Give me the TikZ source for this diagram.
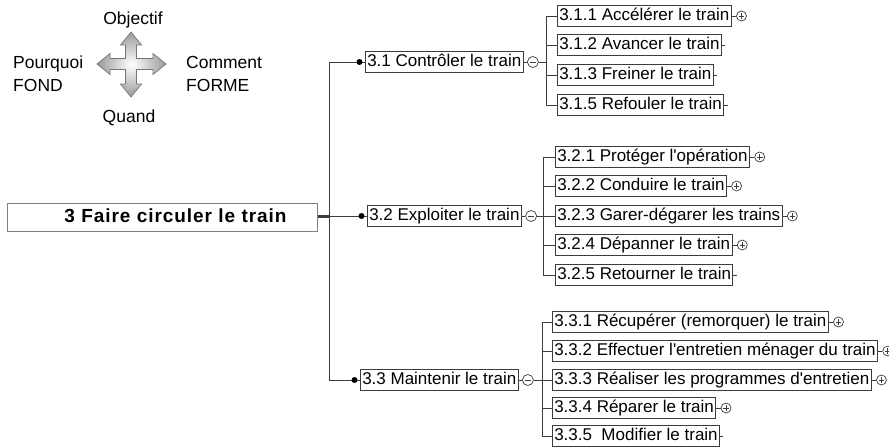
\documentclass[tikz,border=0pt]{standalone}
\usepackage{fontspec}
\setmainfont{Liberation Sans}
\usetikzlibrary{positioning}
\definecolor{ln}{HTML}{3C3C3C}
\begin{document}
\begin{tikzpicture}[x=1pt,y=-1pt,
  box/.style={draw=ln, fill=white, line width=0.9pt, inner xsep=1.8pt, inner ysep=0pt,
    minimum height=21pt, anchor=west, font=\fontsize{17}{20}\selectfont,
    text height=12.5pt, text depth=3.5pt},
  rootbox/.style={draw=gray, fill=white, line width=0.9pt, minimum height=28pt, anchor=east,
    inner xsep=31pt, inner ysep=0pt, text width=248pt, align=right,
    font=\fontsize{19}{22}\selectfont\bfseries\addfontfeature{LetterSpace=5},
    text height=14pt, text depth=4pt},
  lab/.style={font=\fontsize{17.5}{23}\selectfont, inner sep=0pt},
  conn/.style={draw=ln, line width=0.8pt},
  dotc/.style={fill=black},
  plusc/.style={circle, draw=ln, line width=0.7pt, minimum size=10pt, inner sep=0pt,
    path picture={\draw[ln, line width=0.7pt]
      ([xshift=-2.8pt]path picture bounding box.center) -- ([xshift=2.8pt]path picture bounding box.center)
      ([yshift=-2.8pt]path picture bounding box.center) -- ([yshift=2.8pt]path picture bounding box.center);}},
  minusc/.style={circle, draw=ln, line width=0.7pt, minimum size=11pt, inner sep=0pt,
    path picture={\draw[ln, line width=0.7pt]
      ([xshift=-3.2pt]path picture bounding box.center) -- ([xshift=3.2pt]path picture bounding box.center);}},
]
\useasboundingbox (0,0) rectangle (889,447);

% ---- legend cross ----
\def\cx{131}\def\cy{64}
\def\lf{97}\def\rt{166}\def\tp{32}\def\bt{97}
\def\s{5.5}\def\h{10.5}\def\L{13}
\shade[draw=ln!70, line width=0.7pt, inner color=white, outer color=gray!80]
  (\cx,\tp) -- (\cx+\h,\tp+\L) -- (\cx+\s,\tp+\L) -- (\cx+\s,\cy-\s) -- (\rt-\L,\cy-\s)
  -- (\rt-\L,\cy-\h) -- (\rt,\cy) -- (\rt-\L,\cy+\h) -- (\rt-\L,\cy+\s) -- (\cx+\s,\cy+\s)
  -- (\cx+\s,\bt-\L) -- (\cx+\h,\bt-\L) -- (\cx,\bt) -- (\cx-\h,\bt-\L) -- (\cx-\s,\bt-\L)
  -- (\cx-\s,\cy+\s) -- (\lf+\L,\cy+\s) -- (\lf+\L,\cy+\h) -- (\lf,\cy) -- (\lf+\L,\cy-\h)
  -- (\lf+\L,\cy-\s) -- (\cx-\s,\cy-\s) -- (\cx-\s,\tp+\L) -- (\cx-\h,\tp+\L) -- cycle;
\node[lab] (obj) at (133,20) {Objectif};
\node[lab] (quand) at (129,118) {Quand};
\node[lab, anchor=west, align=left] (pq) at (13,74) {Pourquoi\\FOND};
\node[lab, anchor=west, align=left] (cm) at (186,74) {Comment\\FORME};

% ---- root ----
\node[rootbox] (root) at (318,217) {3 Faire circuler le train};
\coordinate (j) at (329,216);
\draw[ln, line width=3pt] (root.east |- j) -- (j);

% ---- level 1 ----
\node[box] (c31) at (365,62) {3.1 Contrôler le train};
\node[box] (c32) at (367,216) {3.2 Exploiter le train};
\node[box] (c33) at (360,380) {3.3 Maintenir le train};
\draw[conn] (j) |- (c31.west);
\draw[conn] (j) -- (c32.west);
\draw[conn] (j) |- (c33.west);
\fill[dotc] ([xshift=-5.5pt]c31.west) circle (3pt);
\fill[dotc] ([xshift=-5.5pt]c32.west) circle (3pt);
\fill[dotc] ([xshift=-5.5pt]c33.west) circle (3pt);

\node[minusc, right=3.5pt of c31] (m31) {};
\node[minusc, right=3.5pt of c32] (m32) {};
\node[minusc, right=3.5pt of c33] (m33) {};
\draw[conn] (c31.east) -- (m31.west);
\draw[conn] (c32.east) -- (m32.west);
\draw[conn] (c33.east) -- (m33.west);
\coordinate (b31) at (546,62);
\coordinate (b32) at (543,216);
\coordinate (b33) at (542,380);
\draw[conn] (m31.east) -- (b31);
\draw[conn] (m32.east) -- (b32);
\draw[conn] (m33.east) -- (b33);

% ---- level 2: 3.1 ----
\node[box] (c311) at (557,16) {3.1.1 Accélérer le train};
\node[box] (c312) at (557,45) {3.1.2 Avancer le train};
\node[box] (c313) at (557,75) {3.1.3 Freiner le train};
\node[box] (c315) at (557,105) {3.1.5 Refouler le train};
\foreach \n in {c311,c312,c313,c315} \draw[conn] (b31) |- (\n.west);

% ---- level 2: 3.2 ----
\node[box] (c321) at (555,157) {3.2.1 Protéger l\textquotesingle opération};
\node[box] (c322) at (555,186) {3.2.2 Conduire le train};
\node[box] (c323) at (555,216) {3.2.3 Garer-dégarer les trains};
\node[box] (c324) at (555,245) {3.2.4 Dépanner le train};
\node[box] (c325) at (555,275) {3.2.5 Retourner le train};
\foreach \n in {c321,c322,c323,c324,c325} \draw[conn] (b32) |- (\n.west);

% ---- level 2: 3.3 ----
\node[box] (c331) at (552,322) {3.3.1 Récupérer (remorquer) le train};
\node[box] (c332) at (552,351) {3.3.2 Effectuer l\textquotesingle entretien ménager du train};
\node[box] (c333) at (552,380) {3.3.3 Réaliser les programmes d\textquotesingle entretien};
\node[box] (c334) at (552,408) {3.3.4 Réparer le train};
\node[box] (c335) at (552,436) {3.3.5\ \ Modifier le train};
\foreach \n in {c331,c332,c333,c334,c335} \draw[conn] (b33) |- (\n.west);

% ---- expand markers ----
\foreach \n in {c311,c321,c322,c323,c324,c331,c332,c333,c334} {
  \node[plusc, right=4.5pt of \n] (p\n) {};
  \draw[conn] (\n.east) -- (p\n.west);
}
\foreach \n in {c312,c313,c315,c325,c335} \draw[conn] (\n.east) -- ++(3.5,0);
\end{tikzpicture}
\end{document}
